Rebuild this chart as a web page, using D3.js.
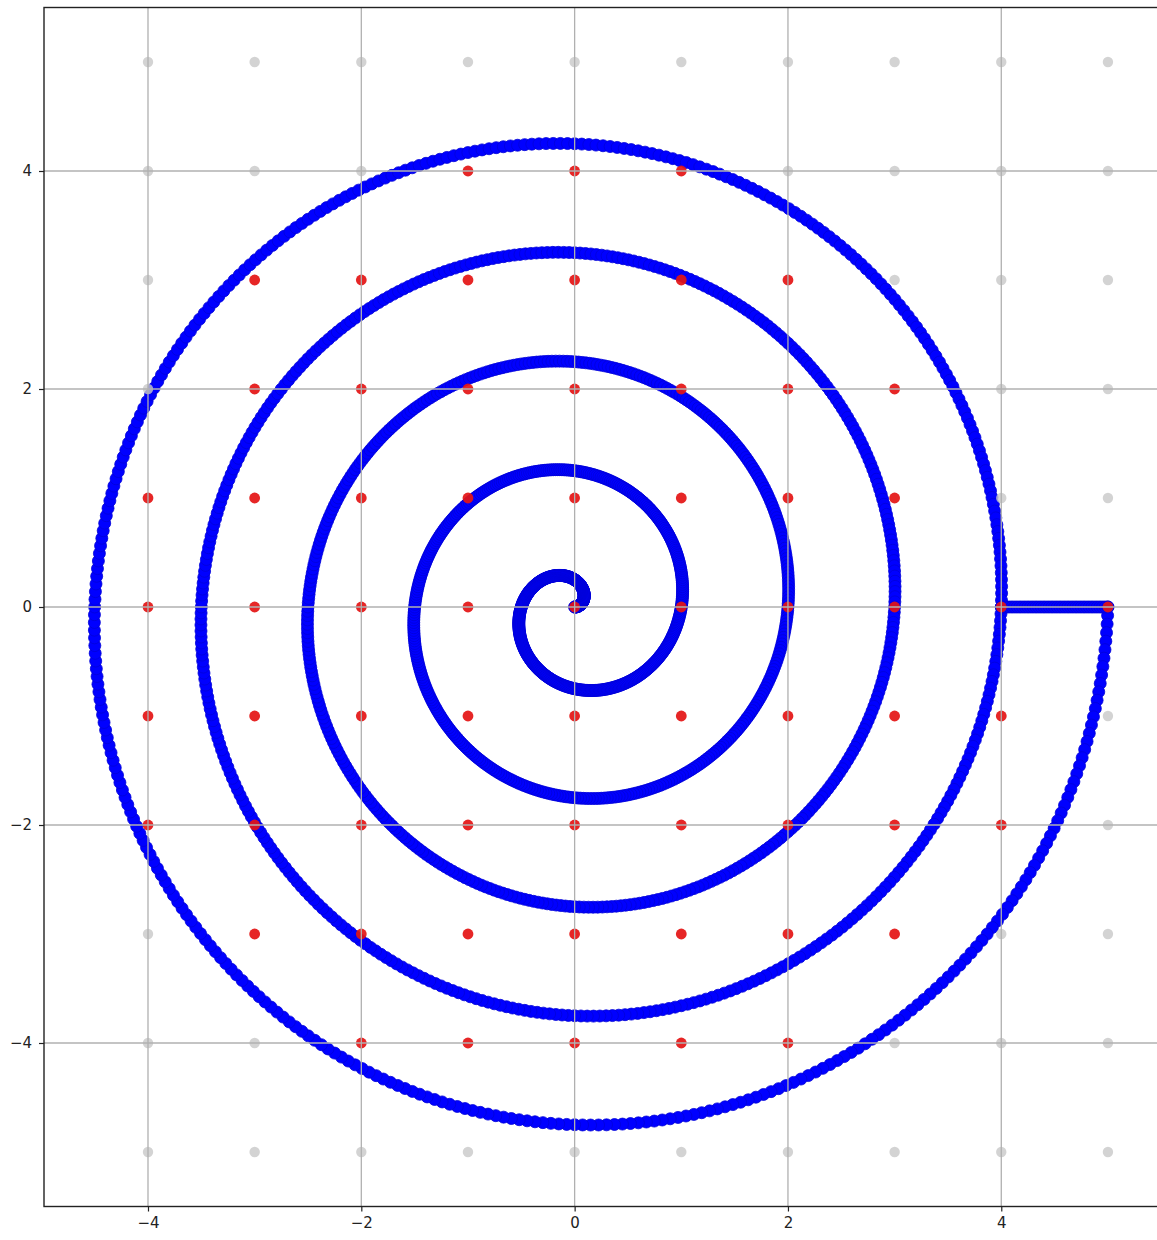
<!DOCTYPE html>
<html>
<head>
<meta charset="utf-8">
<script src="https://cdn.jsdelivr.net/npm/d3@7"></script>
<style>
  html, body { margin: 0; padding: 0; background: #fff; }
  svg { display: block; }
</style>
</head>
<body>
<svg id="chart" width="1157" height="1240"></svg>
<script>
// ---- data ----
const xTicks = [-4, -2, 0, 2, 4];
const yTicks = [-4, -2, 0, 2, 4];
const gridXs = [-4, -3, -2, -1, 0, 1, 2, 3, 4, 5];
const gridYs = [-5, -4, -3, -2, -1, 0, 1, 2, 3, 4, 5];
// red lattice points, one array of x values per row (y)
const redRowY = [4, 3, 2, 1, 0, -1, -2, -3, -4];
const redRowXs = [
  [-1, 0, 1],
  [-3, -2, -1, 0, 1, 2],
  [-3, -2, -1, 0, 1, 2, 3],
  [-4, -3, -2, -1, 0, 1, 2, 3],
  [-4, -3, -2, -1, 0, 1, 2, 3, 4, 5],
  [-4, -3, -2, -1, 0, 1, 2, 3, 4],
  [-4, -3, -2, -1, 0, 1, 2, 3, 4],
  [-3, -2, -1, 0, 1, 2, 3],
  [-2, -1, 0, 1, 2]
];
// spiral radius read at every quarter turn (clockwise from +x axis)
const spiralQuarterRadii = [5, 4.75, 4.5, 4.25, 4, 3.75, 3.5, 3.25, 3, 2.75, 2.5,
  2.25, 2, 1.75, 1.5, 1.25, 1, 0.75, 0.5, 0.25, 0];
// straight connector segment on the x axis
const connectorX = [4, 5];
const connectorY = [0, 0];

// ---- layout ----
const svg = d3.select("#chart");
const mLeft = 44, mTop = 7.5, mBottom = 1206.5, mRight = 1158.6;
const x = d3.scaleLinear().domain([-4.975, 5.475]).range([mLeft, mRight]);
const y = d3.scaleLinear().domain([-5.5, 5.5]).range([mBottom, mTop]);

svg.append("defs").append("clipPath").attr("id", "clip")
  .append("rect").attr("x", mLeft).attr("y", mTop)
  .attr("width", mRight - mLeft).attr("height", mBottom - mTop);

const plot = svg.append("g").attr("clip-path", "url(#clip)");

// spiral samples between quarter-turn readings
const perQuarter = 100;
const spiralPts = [];
for (let q = 0; q < spiralQuarterRadii.length - 1; q++) {
  const ir = d3.interpolateNumber(spiralQuarterRadii[q], spiralQuarterRadii[q + 1]);
  for (let k = 0; k < perQuarter; k++) {
    const t = k / perQuarter;
    const ang = (q + t) * Math.PI / 2;
    const r = ir(t);
    spiralPts.push([r * Math.cos(ang), -r * Math.sin(ang)]);
  }
}
spiralPts.push([0, 0]);
const ic = d3.interpolateNumber(connectorX[0], connectorX[1]);
for (let k = 0; k <= 40; k++) spiralPts.push([ic(k / 40), connectorY[0]]);

plot.append("g").selectAll("circle").data(spiralPts).join("circle")
  .attr("cx", d => x(d[0])).attr("cy", d => y(d[1])).attr("r", 6)
  .attr("fill", "#0000ff").attr("stroke", "#0000d8").attr("stroke-width", 0.8);

// lattice points
const redSet = new Set();
redRowY.forEach((yy, i) => redRowXs[i].forEach(xx => redSet.add(xx + "," + yy)));
const lattice = [];
gridYs.forEach(yy => gridXs.forEach(xx => lattice.push({x: xx, y: yy, red: redSet.has(xx + "," + yy)})));

plot.append("g").selectAll("circle").data(lattice.filter(d => !d.red)).join("circle")
  .attr("cx", d => x(d.x)).attr("cy", d => y(d.y)).attr("r", 5.2)
  .attr("fill", "#c8c8c8").attr("fill-opacity", 0.8);
plot.append("g").selectAll("circle").data(lattice.filter(d => d.red)).join("circle")
  .attr("cx", d => x(d.x)).attr("cy", d => y(d.y)).attr("r", 5.4)
  .attr("fill", "#e41414").attr("fill-opacity", 0.92);

// grid lines on top
const grid = svg.append("g").attr("clip-path", "url(#clip)");
grid.selectAll("line.gx").data(xTicks).join("line").attr("class", "gx")
  .attr("x1", d => x(d)).attr("x2", d => x(d)).attr("y1", mTop).attr("y2", mBottom)
  .attr("stroke", "#b0b0b0").attr("stroke-width", 1.3);
grid.selectAll("line.gy").data(yTicks).join("line").attr("class", "gy")
  .attr("y1", d => y(d)).attr("y2", d => y(d)).attr("x1", mLeft).attr("x2", mRight)
  .attr("stroke", "#b0b0b0").attr("stroke-width", 1.3);

// axes
const xAxis = svg.append("g").attr("transform", `translate(0,${mBottom})`)
  .call(d3.axisBottom(x).tickValues(xTicks).tickSize(5).tickSizeOuter(0).tickPadding(6));
const yAxis = svg.append("g").attr("transform", `translate(${mLeft},0)`)
  .call(d3.axisLeft(y).tickValues(yTicks).tickSize(5).tickSizeOuter(0).tickPadding(7));
[xAxis, yAxis].forEach(a => {
  a.select(".domain").remove();
  a.selectAll(".tick line").attr("stroke", "#222").attr("stroke-width", 1.2);
  a.selectAll(".tick text").attr("fill", "#222")
    .style("font-family", "'DejaVu Sans', sans-serif").style("font-size", "15px");
});

// spines
svg.append("rect").attr("x", mLeft).attr("y", mTop)
  .attr("width", mRight - mLeft).attr("height", mBottom - mTop)
  .attr("fill", "none").attr("stroke", "#222").attr("stroke-width", 1.4);
</script>
</body>
</html>
